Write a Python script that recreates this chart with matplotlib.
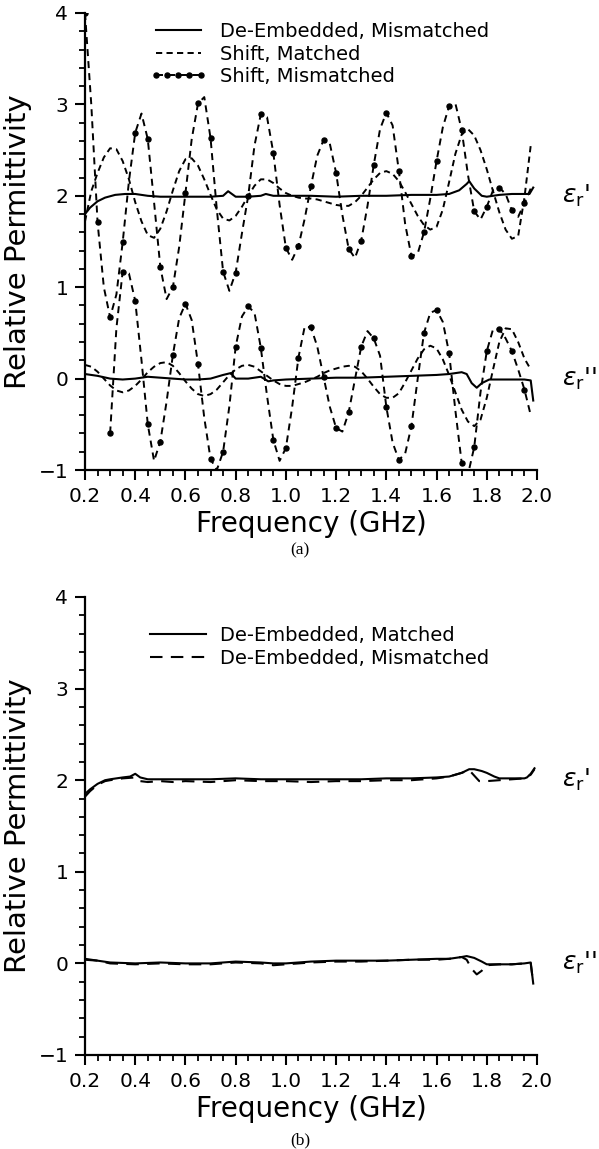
import numpy as np
import matplotlib
matplotlib.use("Agg")
import matplotlib.pyplot as plt
from matplotlib.ticker import MultipleLocator, FormatStrFormatter
from matplotlib.lines import Line2D

# ---------------- data: panel (a) ----------------
# uniform frequency grid (GHz) used by the "Shift" curves
freq_a = 0.2 + 0.025 * np.arange(72)          # 0.200 ... 1.975
freq_a2 = 0.3 + 0.025 * np.arange(68)         # 0.300 ... 1.975

shift_mis_er1 = [4.00, 3.00, 1.71, 1.00, 0.67, 0.92, 1.49, 2.16, 2.69, 2.90,
                 2.62, 1.93, 1.22, 0.87, 1.00, 1.44, 2.03, 2.62, 3.01, 3.08,
                 2.63, 1.85, 1.17, 0.96, 1.16, 1.59, 2.00, 2.55, 2.89, 2.86,
                 2.47, 1.90, 1.43, 1.30, 1.45, 1.75, 2.11, 2.44, 2.61, 2.57,
                 2.25, 1.79, 1.42, 1.32, 1.51, 1.89, 2.34, 2.73, 2.91, 2.77,
                 2.27, 1.69, 1.34, 1.37, 1.60, 1.97, 2.38, 2.75, 2.98, 3.01,
                 2.72, 2.23, 1.83, 1.74, 1.88, 2.06, 2.09, 2.02, 1.84, 1.77,
                 1.92, 2.08]

shift_mat_er1 = [1.72, 2.05, 2.25, 2.42, 2.52, 2.51, 2.38, 2.18, 1.93, 1.72,
                 1.57, 1.54, 1.64, 1.83, 2.06, 2.27, 2.40, 2.41, 2.33, 2.18,
                 2.01, 1.85, 1.75, 1.73, 1.78, 1.88, 2.00, 2.11, 2.18, 2.18,
                 2.14, 2.08, 2.03, 2.00, 1.98, 1.97, 1.97, 1.96, 1.94, 1.92,
                 1.90, 1.89, 1.89, 1.93, 2.00, 2.09, 2.18, 2.25, 2.27, 2.24,
                 2.16, 2.04, 1.91, 1.78, 1.68, 1.63, 1.66, 1.85, 2.15, 2.46,
                 2.67, 2.73, 2.66, 2.50, 2.29, 2.05, 1.82, 1.63, 1.53, 1.56,
                 1.98, 2.55]

shift_mat_er2 = [0.15, 0.13, 0.075, 0.00, -0.075, -0.13, -0.15, -0.13, -0.08, -0.01,
                 0.07, 0.13, 0.17, 0.18, 0.14, 0.06, -0.03, -0.11, -0.17, -0.19,
                 -0.17, -0.12, -0.04, 0.04, 0.10, 0.14, 0.15, 0.13, 0.08, 0.03,
                 -0.02, -0.06, -0.08, -0.08, -0.06, -0.04, -0.01, 0.02, 0.06, 0.09,
                 0.11, 0.13, 0.14, 0.13, 0.08, 0.00, -0.09, -0.17, -0.21, -0.21,
                 -0.16, -0.04, 0.09, 0.22, 0.32, 0.36, 0.33, 0.21, 0.04, -0.15,
                 -0.34, -0.47, -0.52, -0.45, -0.21, 0.10, 0.40, 0.55, 0.54, 0.40,
                 0.22, 0.10]

shift_mis_er2 = [-0.60, 0.55, 1.17, 1.15, 0.85, 0.20, -0.50, -0.90, -0.69, -0.25,
                 0.26, 0.66, 0.82, 0.64, 0.16, -0.43, -0.88, -1.00, -0.80, -0.30,
                 0.35, 0.68, 0.79, 0.72, 0.34, -0.19, -0.67, -0.90, -0.76, -0.31,
                 0.23, 0.57, 0.56, 0.35, 0.02, -0.31, -0.54, -0.58, -0.37, -0.01,
                 0.35, 0.52, 0.44, 0.25, -0.31, -0.70, -0.89, -0.82, -0.52, 0.00,
                 0.50, 0.72, 0.75, 0.62, 0.28, -0.35, -0.92, -1.05, -0.75, -0.15,
                 0.30, 0.54, 0.54, 0.44, 0.30, 0.10, -0.12, -0.40]

deemb_mis_er1_f = [0.2, 0.22, 0.25, 0.28, 0.32, 0.36, 0.4, 0.45, 0.5, 0.6, 0.7, 0.75,
                   0.77, 0.78, 0.8, 0.85, 0.9, 0.92, 0.95, 1.0, 1.1, 1.2, 1.3, 1.4,
                   1.5, 1.6, 1.65, 1.69, 1.72, 1.73, 1.75, 1.78, 1.8, 1.85, 1.9, 1.95,
                   1.97, 1.985]
deemb_mis_er1 = [1.80, 1.87, 1.94, 1.98, 2.01, 2.02, 2.02, 2.00, 1.99, 1.99, 1.99, 2.00,
                 2.05, 2.03, 1.99, 1.99, 2.00, 2.02, 2.00, 2.00, 2.00, 1.99, 2.00, 2.00,
                 2.01, 2.01, 2.02, 2.06, 2.13, 2.16, 2.08, 2.00, 1.99, 2.01, 2.02, 2.02,
                 2.02, 2.09]

deemb_mis_er2_f = [0.2, 0.25, 0.3, 0.35, 0.4, 0.45, 0.5, 0.55, 0.6, 0.65, 0.7, 0.75,
                   0.78, 0.8, 0.85, 0.9, 0.93, 0.95, 1.0, 1.1, 1.2, 1.3, 1.4, 1.5,
                   1.6, 1.65, 1.7, 1.72, 1.74, 1.76, 1.78, 1.81, 1.85, 1.9, 1.95, 1.975,
                   1.985]
deemb_mis_er2 = [0.05, 0.03, 0.00, -0.01, 0.00, 0.02, 0.01, 0.00, -0.01, -0.01, 0.00, 0.04,
                 0.06, 0.00, 0.00, 0.02, -0.03, -0.02, -0.01, 0.00, 0.01, 0.01, 0.02, 0.03,
                 0.04, 0.05, 0.07, 0.05, -0.05, -0.10, -0.05, -0.01, -0.01, -0.01, -0.01, -0.02,
                 -0.24]

# ---------------- data: panel (b) ----------------
b_mat_er1_f = [0.2, 0.22, 0.25, 0.28, 0.3, 0.35, 0.38, 0.4, 0.42, 0.45, 0.5, 0.6, 0.7,
               0.8, 0.9, 1.0, 1.1, 1.2, 1.3, 1.4, 1.5, 1.6, 1.65, 1.7, 1.73, 1.75, 1.78,
               1.8, 1.83, 1.85, 1.9, 1.95, 1.96, 1.975, 1.99]
b_mat_er1 = [1.85, 1.90, 1.96, 2.00, 2.01, 2.03, 2.04, 2.07, 2.03, 2.01, 2.01, 2.01, 2.01,
             2.02, 2.01, 2.01, 2.01, 2.01, 2.01, 2.02, 2.02, 2.03, 2.04, 2.08, 2.12, 2.12, 2.10,
             2.08, 2.04, 2.02, 2.02, 2.02, 2.03, 2.07, 2.13]

b_mis_er1_f = [0.2, 0.22, 0.25, 0.28, 0.3, 0.35, 0.4, 0.42, 0.45, 0.5, 0.55, 0.6, 0.7,
               0.8, 0.9, 1.0, 1.1, 1.2, 1.3, 1.4, 1.5, 1.6, 1.65, 1.7, 1.73, 1.75, 1.77,
               1.8, 1.85, 1.9, 1.95, 1.975, 1.99]
b_mis_er1 = [1.82, 1.88, 1.95, 1.99, 2.00, 2.02, 2.03, 1.99, 1.98, 1.99, 1.98, 1.99, 1.98,
             2.00, 1.99, 1.99, 1.98, 1.99, 1.99, 2.00, 2.00, 2.02, 2.04, 2.08, 2.11, 2.05, 1.99,
             1.99, 2.00, 2.01, 2.02, 2.06, 2.12]

b_mat_er2_f = [0.2, 0.25, 0.3, 0.4, 0.5, 0.6, 0.7, 0.8, 0.9, 0.95, 1.0, 1.1, 1.2, 1.3,
               1.4, 1.5, 1.6, 1.65, 1.7, 1.72, 1.75, 1.78, 1.8, 1.85, 1.9, 1.95, 1.975, 1.985]
b_mat_er2 = [0.05, 0.03, 0.01, 0.00, 0.01, 0.00, 0.00, 0.02, 0.01, 0.00, 0.00, 0.02, 0.03, 0.03,
             0.03, 0.04, 0.05, 0.05, 0.07, 0.08, 0.06, 0.02, -0.01, -0.01, -0.01, 0.00, 0.01, -0.22]

b_mis_er2_f = [0.2, 0.25, 0.3, 0.4, 0.5, 0.6, 0.7, 0.8, 0.9, 0.95, 1.0, 1.1, 1.2, 1.3,
               1.4, 1.5, 1.6, 1.65, 1.7, 1.72, 1.74, 1.76, 1.78, 1.8, 1.85, 1.9, 1.95, 1.975,
               1.985]
b_mis_er2 = [0.04, 0.03, 0.00, -0.01, 0.00, -0.01, -0.01, 0.01, 0.00, -0.02, -0.01, 0.01, 0.02, 0.02,
             0.03, 0.04, 0.04, 0.05, 0.07, 0.04, -0.06, -0.12, -0.08, -0.02, -0.01, -0.01, 0.00, 0.00,
             -0.22]

legend_a = ["De-Embedded, Mismatched", "Shift, Matched", "Shift, Mismatched"]
legend_b = ["De-Embedded, Matched", "De-Embedded, Mismatched"]
xticks_fmt = "%.1f"

# ---------------- figure ----------------
W, H = 599, 1149
plt.rcParams['font.family'] = ['DejaVu Sans']
plt.rcParams['mathtext.fontset'] = 'dejavusans'
fig = plt.figure(figsize=(W / 100, H / 100), dpi=100)


def rect(l, t, r, b):
    return [l / W, 1 - b / H, (r - l) / W, (b - t) / H]


axA = fig.add_axes(rect(85, 13, 537, 470))
axB = fig.add_axes(rect(85, 597, 537, 1055))


def style(ax):
    ax.set_xlim(0.2, 2.0)
    ax.set_ylim(-1, 4)
    ax.spines[['top', 'right']].set_visible(False)
    for s in ('left', 'bottom'):
        ax.spines[s].set_linewidth(1.6)
    ax.xaxis.set_major_locator(MultipleLocator(0.2))
    ax.xaxis.set_minor_locator(MultipleLocator(0.05))
    ax.yaxis.set_major_locator(MultipleLocator(1))
    ax.yaxis.set_minor_locator(MultipleLocator(0.2))
    ax.xaxis.set_major_formatter(FormatStrFormatter(xticks_fmt))
    ax.tick_params(which='major', length=7, width=1.5, direction='out',
                   labelsize=14.5, pad=5)
    ax.tick_params(which='minor', length=4.5, width=1.3, direction='out')
    ax.set_xlabel('Frequency (GHz)', fontsize=20, labelpad=3)
    ax.set_ylabel('Relative Permittivity', fontsize=21, labelpad=5)


style(axA)
style(axB)

LW = 1.5
short_dash = (0, (3.2, 2.2))
mid_dash = (0, (3.6, 2.6))
long_dash = (0, (6, 4))

# panel (a)
axA.plot(deemb_mis_er1_f, deemb_mis_er1, color='black', lw=LW)
axA.plot(deemb_mis_er2_f, deemb_mis_er2, color='black', lw=LW)
axA.plot(freq_a, shift_mat_er1, color='black', lw=1.4, ls=short_dash)
axA.plot(freq_a, shift_mat_er2, color='black', lw=1.4, ls=short_dash)
axA.plot(freq_a, shift_mis_er1, color='black', lw=1.4, ls=mid_dash,
         marker='o', ms=3.6, markevery=2)
axA.plot(freq_a2, shift_mis_er2, color='black', lw=1.4, ls=mid_dash,
         marker='o', ms=3.6, markevery=2)

hA = [Line2D([], [], color='black', lw=LW),
      Line2D([], [], color='black', lw=1.4, ls=short_dash),
      Line2D([], [], color='black', lw=1.4, ls=mid_dash, marker='o', ms=3.6)]
axA.legend(hA, legend_a, loc='upper left', bbox_to_anchor=(150 / W, 1 - 22 / H),
           bbox_transform=fig.transFigure, frameon=False, fontsize=14,
           handlelength=2.9, handletextpad=0.7, labelspacing=0.18,
           borderpad=0, borderaxespad=0, numpoints=5)

# panel (b)
axB.plot(b_mat_er1_f, b_mat_er1, color='black', lw=LW)
axB.plot(b_mis_er1_f, b_mis_er1, color='black', lw=LW, ls=long_dash)
axB.plot(b_mat_er2_f, b_mat_er2, color='black', lw=LW)
axB.plot(b_mis_er2_f, b_mis_er2, color='black', lw=LW, ls=long_dash)

hB = [Line2D([], [], color='black', lw=LW),
      Line2D([], [], color='black', lw=LW, ls=long_dash)]
axB.legend(hB, legend_b, loc='upper left', bbox_to_anchor=(150 / W, 1 - 626 / H),
           bbox_transform=fig.transFigure, frameon=False, fontsize=14,
           handlelength=2.9, handletextpad=0.7, labelspacing=0.18,
           borderpad=0, borderaxespad=0)

# epsilon labels
for ax in (axA, axB):
    tr = ax.get_yaxis_transform()
    ax.text(1.055, 2.0, r"$\varepsilon_{\mathrm{r}}$'", transform=tr, fontsize=18,
            ha='left', va='center', clip_on=False)
    ax.text(1.055, 0.0, r"$\varepsilon_{\mathrm{r}}$''", transform=tr, fontsize=18,
            ha='left', va='center', clip_on=False)

# captions
fig.text(300 / W, 1 - 550 / H, '(a)', ha='center', va='center',
         family='Liberation Serif', fontsize=12.5)
fig.text(300 / W, 1 - 1140 / H, '(b)', ha='center', va='center',
         family='Liberation Serif', fontsize=12.5)

fig.savefig('out.png', dpi=100)
